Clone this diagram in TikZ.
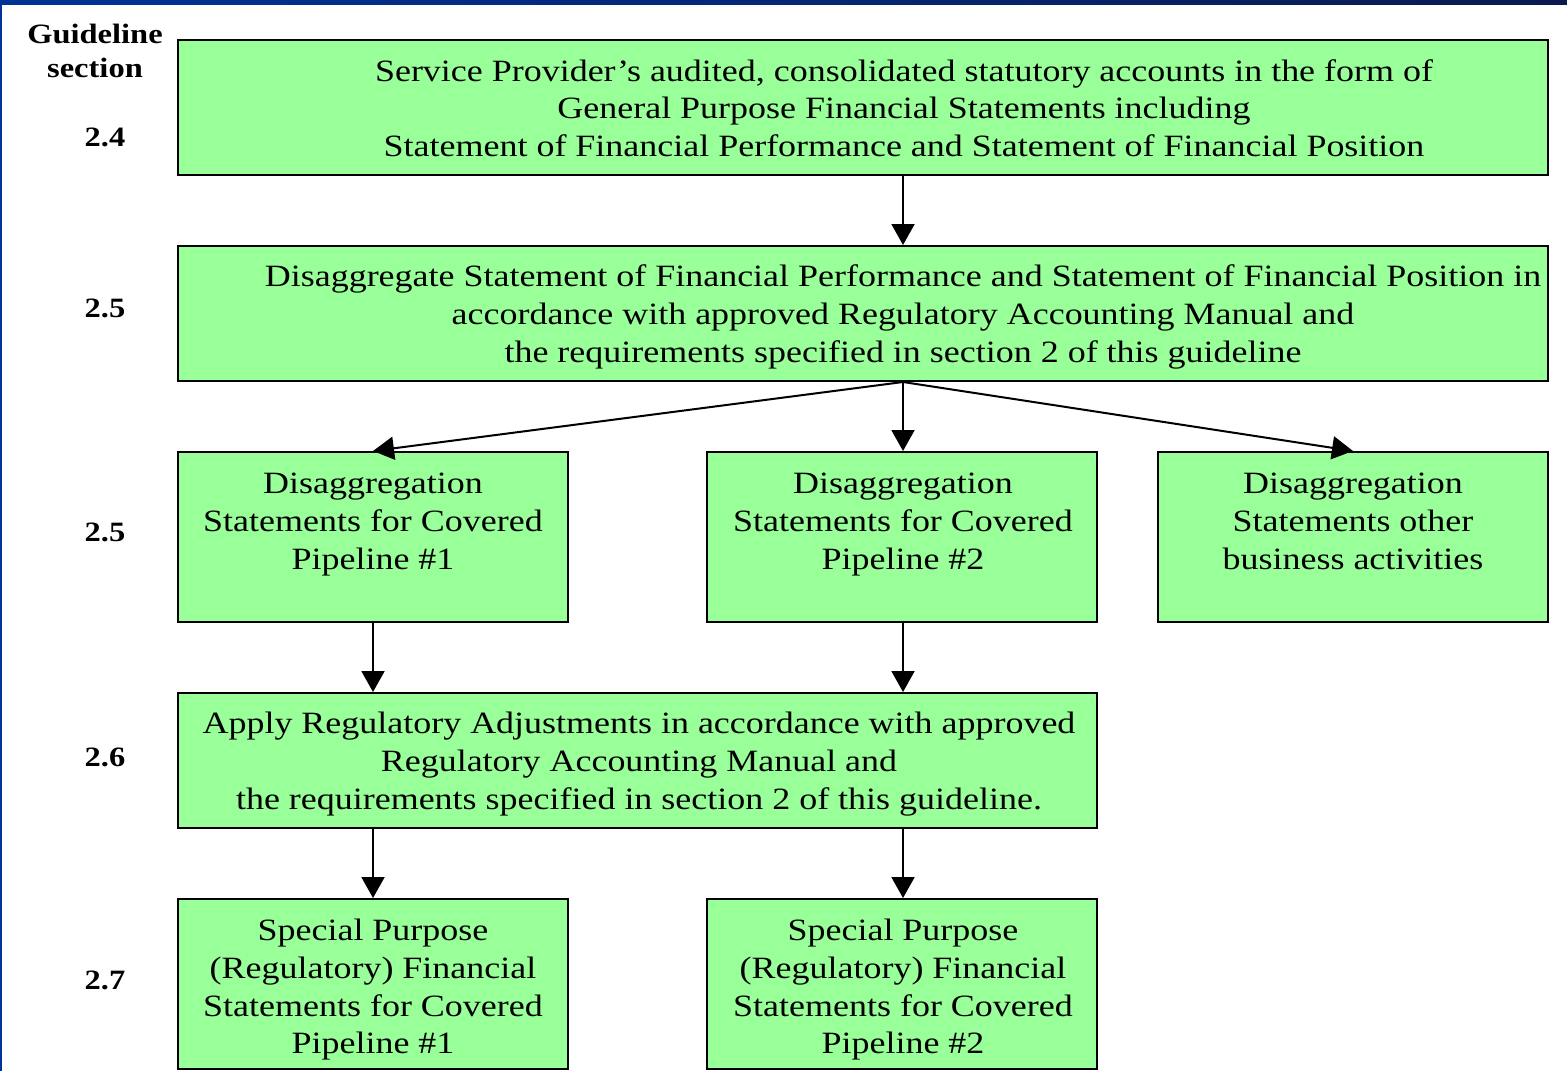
\documentclass[tikz,border=0pt]{standalone}
\usepackage{fontspec}
\setmainfont{Liberation Serif}[FakeStretch=1.16]
\usepackage{xcolor}
\usetikzlibrary{arrows.meta,positioning,calc}
\definecolor{boxgreen}{HTML}{99FF99}
\definecolor{framebluel}{HTML}{003399}
\definecolor{frameblued}{HTML}{0A1A50}

\begin{document}
\begin{tikzpicture}[
  x=0.5pt, y=-0.5pt,
  box/.style={draw=black, line width=1pt, fill=boxgreen, inner sep=0pt},
  wide/.style={box, minimum width=685pt, minimum height=67.5pt},
  small/.style={box, minimum width=195pt, minimum height=85pt},
  boxtext/.style={align=center, font=\fontsize{15.5}{18.8}\selectfont, inner sep=0pt},
  sec/.style={font=\fontsize{14}{17}\selectfont\bfseries, align=center},
  flow/.style={-{Triangle[length=10.5pt,width=11.5pt]}, line width=1pt}
]
\useasboundingbox (0,0) rectangle (1567,1071);
% frame
\shade[left color=framebluel, right color=frameblued] (0,0) rectangle (1567,4);
\fill[framebluel] (0,0) rectangle (2,1071);

% section column
\node[sec] (head) at (95,51) {Guideline\\section};
\node[sec] (secA) at (105,137) {2.4};
\node[sec] (secB) at (105,308) {2.5};
\node[sec] (secC) at (105,532) {2.5};
\node[sec] (secD) at (105,757) {2.6};
\node[sec] (secE) at (105,980) {2.7};

% boxes
\node[wide] (accounts) at (863,107.5) {};
\node[boxtext] (accountstext) at (904,108)
  {Service Provider’s audited, consolidated statutory accounts in the form of\\
   General Purpose Financial Statements including\\
   Statement of Financial Performance and Statement of Financial Position};
\node[wide] (disagg) at (863,313.5) {};
\node[boxtext] (disaggtext) at (903,317)
  {Disaggregate Statement of Financial Performance and Statement of Financial Position in\\
   accordance with approved Regulatory Accounting Manual and\\
   the requirements specified in section 2 of this guideline};
\node[small] (pipeA) at (373,537) {};
\node[boxtext, anchor=north] (pipeAtext) at (373,473)
  {Disaggregation\\Statements for Covered\\Pipeline \#1};
\node[small] (pipeB) at (902,537) {};
\node[boxtext, anchor=north] (pipeBtext) at (903,473)
  {Disaggregation\\Statements for Covered\\Pipeline \#2};
\node[small] (other) at (1353,537) {};
\node[boxtext, anchor=north] (othertext) at (1353,473)
  {Disaggregation\\Statements other\\business activities};
\node[box, minimum width=459.5pt, minimum height=67.5pt] (adjust) at (637.5,760.5) {};
\node[boxtext] (adjusttext) at (639,764)
  {Apply Regulatory Adjustments in accordance with approved\\
   Regulatory Accounting Manual and\\
   the requirements specified in section 2 of this guideline.};
\node[small] (specA) at (373,984) {};
\node[boxtext, anchor=north] (specAtext) at (373,919)
  {Special Purpose\\(Regulatory) Financial\\Statements for Covered\\Pipeline \#1};
\node[small] (specB) at (902,984) {};
\node[boxtext, anchor=north] (specBtext) at (903,919)
  {Special Purpose\\(Regulatory) Financial\\Statements for Covered\\Pipeline \#2};

% connectors
\coordinate (fork) at (disagg.south -| disaggtext);
\draw[flow] (accounts.south -| disaggtext) -- (disagg.north -| disaggtext);
\draw[flow] (fork) -- (pipeA.north);
\draw[flow] (fork) -- (pipeB.north -| fork);
\draw[flow] (fork) -- (other.north);
\draw[flow] (pipeA.south) -- (adjust.north -| pipeA);
\draw[flow] (pipeB.south -| fork) -- (adjust.north -| fork);
\draw[flow] (adjust.south -| specA) -- (specA.north);
\draw[flow] (adjust.south -| fork) -- (specB.north -| fork);
\end{tikzpicture}
\end{document}
